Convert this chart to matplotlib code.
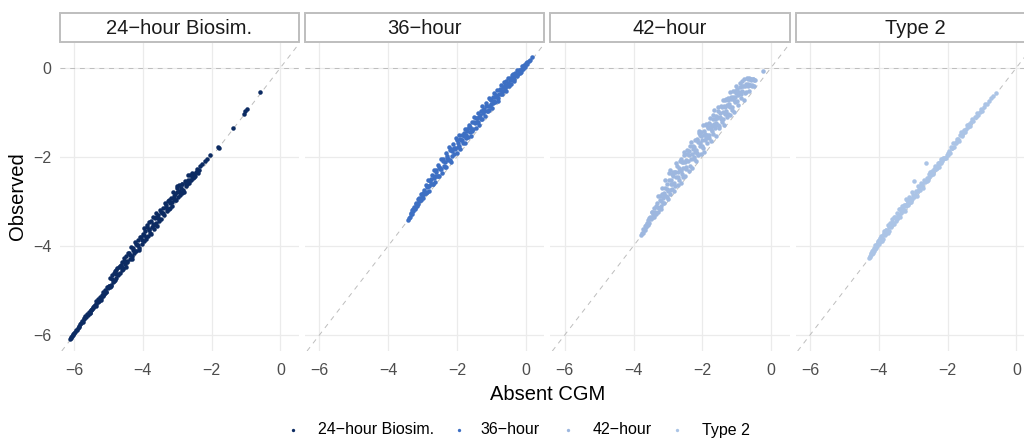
import matplotlib
matplotlib.use("Agg")
import matplotlib.pyplot as plt
from matplotlib.patches import Rectangle
from matplotlib.lines import Line2D

plt.rcParams['font.family'] = ['Liberation Sans', 'DejaVu Sans']

# ---------------------------------------------------------------- data
groups = ["24\u2212hour Biosim.", "36\u2212hour", "42\u2212hour", "Type 2"]
colors = ["#0c2b62", "#3d6fc3", "#9db7df", "#abc4e6"]
ticks = [-6, -4, -2, 0]

absent_24h = [
    -0.59, -0.98, -1.02, -1.07, -1.37, -1.79, -1.83, -2.04, -2.13, -2.19, -2.27, -2.33,
    -2.38, -2.41, -2.45, -2.48, -2.52, -2.55, -2.58, -2.61, -2.64, -2.67, -2.70, -2.73, -2.76, -2.79,
    -2.82, -2.85, -2.87, -2.90, -2.92, -2.95, -2.97, -3.00, -3.02, -3.05,
    -3.08, -3.10, -3.13, -3.16, -3.19, -3.22, -3.25, -3.28, -3.31, -3.34,
    -3.38, -3.41, -3.45, -3.48,
    -3.51, -3.53, -3.56, -3.58, -3.61, -3.63, -3.66, -3.68, -3.71, -3.73,
    -3.76, -3.78, -3.81, -3.83, -3.86, -3.88, -3.91, -3.93, -3.96, -3.98,
    -4.01, -4.04, -4.07, -4.10, -4.13, -4.16, -4.19, -4.22, -4.25, -4.28,
    -4.31, -4.35, -4.38, -4.42, -4.45, -4.48,
    -4.52, -4.55, -4.57, -4.60, -4.62, -4.65, -4.67, -4.70, -4.72, -4.75,
    -4.77, -4.80, -4.82, -4.85, -4.87, -4.90, -4.92, -4.95, -4.97, -5.00,
    -4.64, -4.78,
    -5.02, -5.05, -5.07, -5.10, -5.12, -5.15, -5.17, -5.20, -5.22, -5.25,
    -5.27, -5.30, -5.32, -5.35, -5.37, -5.40, -5.42, -5.45, -5.47, -5.50,
    -5.52, -5.55, -5.57, -5.60, -5.62, -5.65, -5.67, -5.70, -5.72, -5.75,
    -5.77, -5.80, -5.82, -5.85, -5.87, -5.90, -5.92, -5.95, -5.97, -6.00,
    -6.02, -6.04, -6.06, -6.08, -6.10, -6.12,
    -2.43, -2.50, -2.57, -2.63, -2.69, -2.75, -2.81, -2.86, -2.91, -2.96,
    -3.01, -3.06, -3.11, -3.15, -3.20, -3.24, -3.29, -3.33, -3.37, -3.42,
    -3.47, -3.52, -3.57, -3.62, -3.67, -3.72, -3.77, -3.82, -3.87, -3.92,
    -3.97, -4.02, -4.06, -4.11, -4.15, -4.20, -4.24, -4.29, -4.33, -4.37,
    -4.41, -4.46, -4.50, -4.54, -4.59, -4.63, -4.68, -4.73, -4.79, -4.84,
    -4.89, -4.94, -4.99, -5.06, -5.13, -5.21, -5.28, -5.36, -5.44, -5.53,
]
observed_24h = [
    -0.54, -0.92, -0.97, -1.03, -1.35, -1.81, -1.79, -1.97, -2.06, -2.09, -2.17, -2.21,
    -2.30, -2.36, -2.33, -2.42, -2.38, -2.47, -2.44, -2.53, -2.40, -2.58, -2.52, -2.60, -2.66, -2.55,
    -2.74, -2.62, -2.81, -2.70, -2.86, -2.64, -2.91, -2.78, -2.66, -2.97,
    -2.84, -2.95, -2.80, -3.10, -2.92, -3.04, -3.18, -2.99, -3.21, -3.08,
    -3.30, -3.16, -3.26, -3.40,
    -3.20, -3.45, -3.30, -3.55, -3.26, -3.48, -3.38, -3.62, -3.34, -3.57,
    -3.44, -3.70, -3.47, -3.62, -3.78, -3.52, -3.84, -3.66, -3.60, -3.90,
    -3.74, -3.96, -3.80, -4.04, -3.86, -3.98, -4.12, -3.92, -4.15, -4.05,
    -4.22, -4.03, -4.30, -4.16, -4.36, -4.22,
    -4.40, -4.28, -4.50, -4.36, -4.55, -4.42, -4.60, -4.47, -4.65, -4.50,
    -4.72, -4.56, -4.76, -4.60, -4.82, -4.66, -4.88, -4.73, -4.92, -4.90,
    -4.46, -4.55,
    -4.95, -4.92, -5.03, -5.00, -5.08, -5.04, -5.12, -5.10, -5.16, -5.14,
    -5.22, -5.19, -5.27, -5.24, -5.30, -5.33, -5.36, -5.38, -5.41, -5.45,
    -5.44, -5.50, -5.49, -5.55, -5.53, -5.60, -5.58, -5.64, -5.63, -5.70,
    -5.68, -5.74, -5.76, -5.79, -5.82, -5.84, -5.88, -5.89, -5.93, -5.96,
    -5.98, -6.00, -6.03, -6.05, -6.07, -6.09,
    -2.28, -2.45, -2.37, -2.53, -2.41, -2.59, -2.79, -2.60, -2.78, -2.76,
    -2.71, -2.98, -2.89, -3.01, -3.16, -2.97, -3.17, -3.12, -3.04, -3.26,
    -3.23, -3.40, -3.37, -3.34, -3.52, -3.50, -3.73, -3.64, -3.57, -3.79,
    -3.75, -3.87, -3.80, -4.09, -3.97, -3.96, -4.12, -4.09, -4.29, -4.21,
    -4.15, -4.34, -4.48, -4.34, -4.51, -4.48, -4.46, -4.63, -4.62, -4.79,
    -4.75, -4.91, -4.91, -5.04, -5.07, -5.22, -5.23, -5.35, -5.40, -5.51,
]

absent_36h = [
    -3.42, -3.40, -3.37, -3.35, -3.32, -3.30, -3.27, -3.25, -3.22, -3.19,
    -3.16, -3.13, -3.10, -3.07, -3.04, -3.01,
    -2.98, -2.96, -2.93, -2.91, -2.88, -2.86, -2.83, -2.81, -2.78, -2.76,
    -2.73, -2.71, -2.68, -2.66, -2.63, -2.61, -2.58, -2.56, -2.53, -2.51,
    -2.48, -2.46, -2.43, -2.41, -2.38, -2.36, -2.33, -2.31, -2.28, -2.26,
    -2.23, -2.21, -2.18, -2.16, -2.13, -2.11, -2.08, -2.06, -2.03, -2.01,
    -1.98, -1.96, -1.93, -1.91, -1.88, -1.86, -1.83, -1.81, -1.78, -1.76,
    -1.73, -1.71, -1.68, -1.66, -1.63, -1.61, -1.58, -1.56, -1.53, -1.51,
    -1.48, -1.46, -1.43, -1.41, -1.38, -1.36, -1.33, -1.31, -1.28, -1.26,
    -1.23, -1.21, -1.18, -1.16, -1.13, -1.11, -1.08, -1.06, -1.03, -1.01,
    -0.98, -0.96, -0.93, -0.91, -0.88, -0.86, -0.83, -0.81, -0.78, -0.76,
    -0.73, -0.71, -0.68, -0.66, -0.63, -0.61, -0.58, -0.56, -0.53, -0.51,
    -0.48, -0.46, -0.43, -0.41, -0.38, -0.36, -0.33, -0.31, -0.28, -0.26,
    -0.23, -0.21, -0.18, -0.15, -0.12, -0.09, -0.06, -0.03, 0.00, 0.05,
    0.11, 0.19,
    -3.33, -3.28, -3.23, -3.18, -3.14, -3.09, -3.05, -3.00, -2.95, -2.90,
    -2.85, -2.80, -2.75, -2.70, -2.65, -2.60, -2.55, -2.50, -2.45, -2.40,
    -2.35, -2.30, -2.25, -2.20, -2.15, -2.10, -2.05, -2.00, -1.95, -1.90,
    -1.85, -1.80, -1.75, -1.70, -1.65, -1.60, -1.55, -1.50, -1.45, -1.40,
    -1.35, -1.30, -1.25, -1.20, -1.15, -1.10, -1.05, -1.00, -0.95, -0.90,
    -0.85, -0.80, -0.75, -0.70, -0.65, -0.60, -0.55, -0.50, -0.45, -0.40,
    -0.35, -0.30, -0.25, -0.20, -0.16, -0.11, -0.07, -0.02, 0.03, 0.09,
]
observed_36h = [
    -3.42, -3.37, -3.35, -3.28, -3.28, -3.20, -3.22, -3.13, -3.14, -3.04,
    -3.10, -2.95, -2.99, -2.98, -2.84, -2.87,
    -2.93, -2.74, -2.81, -2.63, -2.80, -2.68, -2.53, -2.77, -2.54, -2.62,
    -2.40, -2.61, -2.48, -2.30, -2.57, -2.35, -2.42, -2.18, -2.42, -2.22,
    -2.27, -2.06, -2.36, -2.09, -2.21, -2.11, -1.91, -2.22, -1.98, -2.07,
    -1.79, -2.08, -1.83, -2.11, -1.86, -1.71, -1.93, -1.83, -1.58, -1.91,
    -1.68, -1.78, -1.51, -1.83, -1.63, -1.50, -1.69, -1.53, -1.38, -1.70,
    -1.51, -1.38, -1.56, -1.28, -1.44, -1.34, -1.53, -1.21, -1.37, -1.10,
    -1.24, -1.36, -1.12, -1.21, -1.01, -1.29, -1.07, -0.97, -1.15, -0.87,
    -1.02, -0.92, -1.09, -0.80, -0.96, -0.86, -0.68, -0.95, -0.71, -0.82,
    -0.90, -0.66, -0.75, -0.56, -0.76, -0.62, -0.51, -0.75, -0.58, -0.48,
    -0.59, -0.38, -0.59, -0.44, -0.33, -0.45, -0.53, -0.30, -0.34, -0.22,
    -0.37, -0.23, -0.36, -0.16, -0.21, -0.15, -0.29, -0.12, -0.16, -0.04,
    -0.15, -0.05, -0.05, -0.09, 0.03, 0.00, 0.06, 0.02, 0.10, 0.13,
    0.17, 0.24,
    -3.27, -3.18, -3.18, -3.05, -3.07, -2.93, -2.96, -2.81, -2.83, -2.82,
    -2.65, -2.66, -2.49, -2.61, -2.43, -2.29, -2.42, -2.26, -2.28, -2.06,
    -2.23, -2.03, -2.04, -1.85, -1.99, -1.80, -1.81, -1.63, -1.76, -1.61,
    -1.63, -1.47, -1.58, -1.43, -1.34, -1.38, -1.41, -1.21, -1.12, -1.22,
    -1.10, -1.15, -0.95, -0.98, -0.87, -0.97, -0.85, -0.73, -0.80, -0.66,
    -0.66, -0.68, -0.50, -0.52, -0.52, -0.38, -0.40, -0.40, -0.28, -0.28,
    -0.26, -0.16, -0.18, -0.09, -0.11, -0.02, -0.03, 0.06, 0.08, 0.16,
]

absent_42h = [
    -3.77, -3.75, -3.73, -3.71, -3.68, -3.66, -3.64, -3.62, -3.59, -3.57,
    -3.54, -3.52, -3.49, -3.46, -3.43, -3.40, -3.36, -3.33,
    -3.30, -3.28, -3.25, -3.23, -3.20, -3.18, -3.15, -3.12, -3.10, -3.07,
    -3.04, -3.02, -2.99, -2.96, -2.94, -2.91, -2.88, -2.86, -2.83, -2.80,
    -2.78, -2.75, -2.72, -2.70, -2.67, -2.64, -2.62, -2.59, -2.56, -2.54,
    -2.51, -2.48, -2.46, -2.43, -2.40, -2.38, -2.35, -2.32, -2.30, -2.27,
    -2.24, -2.22, -2.94, -2.62,
    -2.20, -2.18, -2.15, -2.13, -2.10, -2.08, -2.05, -2.03, -2.00, -1.98,
    -1.95, -1.93, -1.90, -1.88, -1.85, -1.83, -1.80, -1.78, -1.75, -1.73,
    -1.70, -1.68, -1.65, -1.63, -1.60, -1.58, -1.55, -1.53, -1.50, -1.48,
    -1.45, -1.43, -1.40, -1.38, -1.35, -1.33, -1.30, -1.28, -1.25, -1.23,
    -1.20, -1.18, -1.15, -1.13, -1.10, -1.08, -1.05, -1.03, -2.07, -1.62,
    -1.00, -0.98, -0.95, -0.93, -0.90, -0.88, -0.85, -0.83, -0.80, -0.78,
    -0.75, -0.73, -0.70, -0.68, -0.66, -0.64, -0.62, -0.60, -0.58, -0.55,
    -0.52, -0.50, -0.47, -0.64, -0.85, -0.22,
    -3.70, -3.65, -3.60, -3.55, -3.50, -3.45, -3.41, -3.38, -3.34, -3.31,
    -3.27, -3.24, -3.21, -3.19, -3.16, -3.13, -3.11, -3.08, -3.05, -3.03,
    -3.00, -2.97, -2.95, -2.92, -2.89, -2.87, -2.84, -2.81, -2.79, -2.76,
    -2.73, -2.71, -2.68, -2.65, -2.63, -2.60, -2.57, -2.55, -2.52, -2.49,
    -2.47, -2.44, -2.41, -2.39, -2.36, -2.33, -2.31, -2.28, -2.25, -2.23,
    -2.19, -2.16, -2.14, -2.11, -2.09, -2.06, -2.04, -2.01, -1.99, -1.96,
    -1.94, -1.91, -1.89, -1.86, -1.84, -1.81, -1.79, -1.76, -1.74, -1.71,
    -1.69, -1.66, -1.64, -1.61, -1.59, -1.56, -1.54, -1.51, -1.49, -1.46,
    -1.44, -1.41, -1.39, -1.36, -1.34, -1.31, -1.29, -1.26, -1.24, -1.21,
    -1.19, -1.16, -1.14, -1.11, -1.09, -1.06, -1.04, -1.01, -0.96, -0.91,
    -0.86, -0.81, -0.77, -0.72, -0.67, -0.63, -0.59, -0.56, -0.53, -0.49,
]
observed_42h = [
    -3.75, -3.70, -3.70, -3.63, -3.64, -3.56, -3.58, -3.49, -3.52, -3.42,
    -3.49, -3.34, -3.40, -3.24, -3.31, -3.14, -3.28, -3.03,
    -3.25, -2.88, -3.15, -2.88, -3.17, -2.70, -3.03, -2.82, -3.03, -2.52,
    -2.90, -2.60, -2.95, -2.36, -2.84, -2.53, -2.73, -2.34, -2.77, -2.35,
    -2.66, -2.13, -2.64, -2.35, -2.51, -2.09, -2.59, -2.11, -2.45, -1.89,
    -2.44, -2.08, -2.28, -1.85, -2.31, -1.88, -2.21, -1.66, -2.25, -1.83,
    -2.04, -1.62, -2.30, -2.32,
    -1.90, -2.10, -1.63, -1.95, -1.42, -1.68, -1.93, -1.45, -1.75, -1.28,
    -1.90, -1.48, -1.57, -1.26, -1.70, -1.33, -1.52, -1.12, -1.65, -1.31,
    -1.15, -1.48, -0.95, -1.28, -1.54, -1.10, -1.29, -0.89, -1.36, -1.10,
    -0.87, -1.21, -0.72, -1.29, -0.89, -1.03, -0.70, -1.11, -0.73, -0.87,
    -0.54, -1.06, -0.71, -0.88, -0.52, -1.00, -0.65, -0.41, -1.52, -1.14,
    -0.75, -0.48, -0.83, -0.55, -0.35, -0.68, -0.40, -0.53, -0.72, -0.26,
    -0.40, -0.55, -0.22, -0.40, -0.26, -0.52, -0.26, -0.38, -0.25, -0.40,
    -0.25, -0.42, -0.27, -0.22, -0.30, -0.07,
    -3.64, -3.53, -3.52, -3.38, -3.38, -3.25, -3.34, -3.23, -3.10, -3.13,
    -3.15, -2.96, -2.99, -3.10, -2.83, -2.93, -2.85, -2.70, -2.87, -2.73,
    -2.76, -2.52, -2.75, -2.60, -2.39, -2.61, -2.44, -2.59, -2.33, -2.46,
    -2.21, -2.46, -2.26, -2.30, -2.05, -2.38, -2.12, -2.25, -1.97, -2.11,
    -2.22, -1.94, -2.09, -1.95, -1.76, -2.05, -1.93, -1.76, -2.01, -1.77,
    -1.84, -1.60, -1.92, -1.66, -1.47, -1.76, -1.54, -1.63, -1.81, -1.41,
    -1.52, -1.63, -1.29, -1.51, -1.36, -1.57, -1.23, -1.38, -1.29, -1.41,
    -1.07, -1.26, -1.36, -1.09, -1.23, -1.12, -0.96, -1.31, -1.01, -1.14,
    -0.89, -0.99, -1.14, -0.86, -0.72, -0.96, -0.84, -1.04, -0.69, -0.81,
    -0.89, -0.66, -0.94, -0.66, -0.73, -0.52, -0.78, -0.57, -0.62, -0.43,
    -0.58, -0.41, -0.57, -0.37, -0.37, -0.39, -0.27, -0.38, -0.25, -0.27,
]

absent_t2 = [
    -4.29, -4.27, -4.25, -4.23, -4.21, -4.19, -4.17, -4.15, -4.12, -4.10,
    -4.08, -4.05, -4.03, -4.00, -3.98, -3.95, -3.93, -3.90, -3.87, -3.85,
    -3.82, -3.79, -3.76, -3.73, -3.70, -3.67, -3.64, -3.61, -3.57, -3.53,
    -3.50, -3.47, -3.44, -3.41, -3.38, -3.35, -3.32, -3.29, -3.26, -3.23,
    -3.20, -3.17, -3.14, -3.11, -3.08, -3.05, -3.02, -2.99, -2.96, -2.93,
    -2.90, -2.87, -2.84, -2.81, -2.78, -2.75, -2.72, -2.69, -2.66, -2.63,
    -2.60, -2.57, -2.54, -2.51, -2.48, -2.45, -2.42, -2.39, -2.36, -2.33,
    -2.30, -2.27, -2.24, -2.21, -2.18, -2.15, -2.12, -2.09, -2.06, -2.03,
    -2.00, -1.97, -1.94, -1.91, -1.88, -1.85, -1.82, -1.79, -1.76, -1.73,
    -1.70, -1.67, -1.64, -1.61, -1.58, -1.55, -1.52, -1.49, -1.46, -1.43,
    -1.40, -1.37, -1.34, -1.31, -1.28, -1.25, -1.21, -1.18, -1.14, -1.11,
    -1.07, -1.03, -0.99, -0.95, -0.90, -0.85, -0.80, -0.74, -0.67, -0.58,
    -4.24, -4.20, -4.16, -4.13, -4.09, -4.06, -4.02, -3.99, -3.96, -3.92,
    -3.89, -3.86, -3.83, -3.80, -3.77, -3.74, -3.71, -3.68, -3.65, -3.62,
    -3.59, -3.55, -3.51, -3.48, -3.45, -3.42, -3.39, -3.36, -3.33, -3.30,
    -3.27, -3.24, -3.21, -3.18, -3.15, -3.12, -3.09, -3.06, -3.03, -3.00,
    -2.97, -2.91, -2.85, -2.79, -2.73, -2.67, -2.61, -2.55, -2.49, -2.43,
    -2.37, -2.31, -2.25, -2.19, -2.13, -2.07, -1.99, -1.86, -1.72, -1.57,
]
observed_t2 = [
    -4.28, -4.23, -4.25, -4.17, -4.18, -4.11, -4.15, -4.05, -4.07, -3.98,
    -4.05, -3.96, -3.89, -3.96, -3.87, -3.88, -3.77, -3.88, -3.75, -3.67,
    -3.76, -3.65, -3.67, -3.53, -3.66, -3.51, -3.53, -3.39, -3.50, -3.35,
    -3.45, -3.27, -3.34, -3.17, -3.35, -3.20, -3.10, -3.21, -3.08, -3.21,
    -2.95, -3.05, -3.08, -2.91, -2.94, -3.01, -2.79, -2.55, -2.86, -2.76,
    -2.87, -2.66, -2.72, -2.74, -2.59, -2.61, -2.70, -2.53, -2.57, -2.14,
    -2.48, -2.52, -2.39, -2.33, -2.40, -2.32, -2.39, -2.28, -2.20, -2.27,
    -2.20, -2.13, -2.22, -2.12, -2.06, -2.10, -2.02, -2.02, -2.03, -1.95,
    -1.96, -1.87, -1.92, -1.78, -1.81, -1.70, -1.79, -1.68, -1.70, -1.59,
    -1.61, -1.65, -1.52, -1.45, -1.53, -1.45, -1.39, -1.45, -1.38, -1.29,
    -1.34, -1.26, -1.31, -1.22, -1.15, -1.20, -1.11, -1.11, -1.02, -1.07,
    -0.99, -0.92, -0.96, -0.88, -0.81, -0.81, -0.74, -0.69, -0.64, -0.56,
    -4.19, -4.17, -4.09, -4.11, -4.00, -4.01, -3.91, -3.92, -3.83, -3.84,
    -3.84, -3.72, -3.74, -3.64, -3.67, -3.70, -3.58, -3.49, -3.57, -3.47,
    -3.48, -3.35, -3.37, -3.40, -3.28, -3.30, -3.18, -3.27, -3.17, -3.18,
    -3.20, -3.08, -3.11, -2.98, -3.01, -3.03, -2.92, -2.95, -2.95, -2.85,
    -2.90, -2.78, -2.77, -2.65, -2.64, -2.55, -2.54, -2.45, -2.37, -2.36,
    -2.28, -2.26, -2.14, -2.13, -2.05, -2.02, -1.91, -1.80, -1.64, -1.50,
]

series = [
    (absent_24h, observed_24h),
    (absent_36h, observed_36h),
    (absent_42h, observed_42h),
    (absent_t2, observed_t2),
]

# ---------------------------------------------------------------- layout (pixels)
W, H = 1024, 438
panel_left = [59.7, 305.0, 550.3, 795.6]
panel_w = 239.3
panel_top, panel_bottom = 41.7, 351.0
strip_top = 13.3
xlim = (-6.42, 0.54)
ylim = (-6.36, 0.585)

grid_col = "#ebebeb"
ref_col = "#bdbdbd"
text_col = "#4d4d4d"


def fig_box(left, top, right, bottom):
    return [left / W, 1 - bottom / H, (right - left) / W, (bottom - top) / H]


fig = plt.figure(figsize=(W / 100, H / 100), dpi=100)
fig.patch.set_facecolor("white")

for i, (name, col, (xs, ys)) in enumerate(zip(groups, colors, series)):
    left = panel_left[i]
    ax = fig.add_axes(fig_box(left, panel_top, left + panel_w, panel_bottom))
    ax.set_facecolor("white")
    for sp in ax.spines.values():
        sp.set_visible(False)
    ax.set_xlim(*xlim)
    ax.set_ylim(*ylim)
    ax.set_xticks(ticks)
    ax.set_yticks(ticks)
    ax.grid(True, color=grid_col, lw=0.9)
    ax.set_axisbelow(True)
    ax.tick_params(length=0, labelsize=11.5, labelcolor=text_col)
    ax.tick_params(axis="x", pad=8.5)
    ax.tick_params(axis="y", pad=6)
    if i > 0:
        ax.tick_params(labelleft=False)

    ax.axhline(0, color=ref_col, lw=0.7, ls=(0, (5, 5)), zorder=1)
    ax.axline((0, 0), slope=1, color=ref_col, lw=0.7, ls=(0, (5, 5)), zorder=1)
    ax.scatter(xs, ys, s=10.5, color=col, linewidths=0, zorder=3)

    # facet strip
    strip = Rectangle((left / W, 1 - panel_top / H), panel_w / W,
                      (panel_top - strip_top) / H, transform=fig.transFigure,
                      facecolor="white", edgecolor="#bebebe", lw=1.4)
    fig.add_artist(strip)
    fig.text((left + panel_w / 2) / W, 1 - ((panel_top + strip_top) / 2 + 1) / H,
             name, ha="center", va="center", fontsize=14.5, color="#1a1a1a")

# axis titles
fig.text(547.3 / W, 1 - 394 / H, "Absent CGM", ha="center", va="center",
         fontsize=14.5, color="black")
fig.text(17.5 / W, 1 - 196 / H, "Observed", ha="center", va="center",
         rotation=90, fontsize=14.5, color="black")

# legend along the bottom
legend_marker_x = [293, 459, 568, 677]
legend_text_x = [318, 480, 593, 702]
legend_y = 430
for name, col, mx, tx in zip(groups, colors, legend_marker_x, legend_text_x):
    fig.add_artist(Line2D([mx / W], [1 - legend_y / H], marker="o", markersize=2.4,
                          color=col, markeredgewidth=0, linestyle="none",
                          transform=fig.transFigure))
    fig.text(tx / W, 1 - legend_y / H, name, ha="left", va="center",
             fontsize=11.5, color="black")

fig.savefig("out.png", dpi=100, facecolor="white")
